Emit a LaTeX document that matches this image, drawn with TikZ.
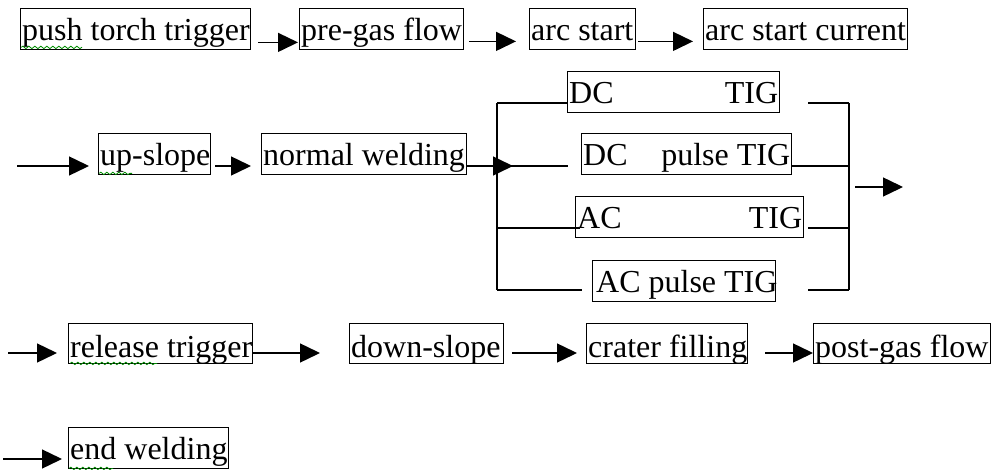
\documentclass[tikz,border=0pt]{standalone}
\usepackage{fontspec}
\setmainfont{Liberation Serif}
\usetikzlibrary{arrows.meta,decorations.pathmorphing}
\begin{document}
\begin{tikzpicture}[x=1pt,y=-1pt,
  stepbox/.style={draw, line width=1.4pt, inner xsep=1.5pt, inner ysep=0pt,
    anchor=north west, font=\fontsize{32}{34}\selectfont, text height=32pt},
  link/.style={line width=1.4pt},
  flow/.style={link, -{Triangle[length=20pt,width=19pt]}},
  spell/.style={draw=green!55!black, line width=0.8pt, decorate,
    decoration={snake, segment length=6pt, amplitude=1.2pt}}]
\useasboundingbox (0,0) rectangle (992,470);

% start-up sequence
\node[stepbox, text depth=9pt] (push)   at (20,8)  {\makebox[227pt][l]{push torch trigger}};
\node[stepbox, text depth=9pt] (pre)    at (299,8) {\makebox[161pt][l]{pre-gas flow}};
\node[stepbox, text depth=9pt] (arcs)   at (529,8) {\makebox[103pt][l]{arc start}};
\node[stepbox, text depth=9pt] (arcc)   at (703,8) {\makebox[201pt][l]{arc start current}};

\draw[flow] ([xshift=7pt,yshift=8pt]push.south east) -- ([xshift=-1pt,yshift=8pt]pre.south west);
\draw[flow] ([xshift=5pt,yshift=9pt]pre.south east) -- ([xshift=-13pt,yshift=9pt]arcs.south west);
\draw[flow] ([xshift=2pt,yshift=9pt]arcs.south east) -- ([xshift=-10pt,yshift=9pt]arcc.south west);

% welding row
\coordinate (in2) at (17,166);
\node[stepbox, text depth=9pt] (up)     at (98,133)  {\makebox[109pt][l]{up-slope}};
\node[stepbox, text depth=9pt] (normal) at (261,133) {\makebox[202pt][l]{normal welding}};
\draw[flow] (in2) -- ([xshift=-9pt]up.west |- in2);
\draw[flow] ([xshift=4pt]up.east |- in2) -- ([xshift=-10pt]normal.west |- in2);

% process variants
\node[stepbox, text depth=9pt] (dc)  at (567,71)  {\makebox[209pt][s]{DC\hfill TIG}};
\node[stepbox, text depth=9pt] (dcp) at (581,133) {\makebox[207pt][s]{DC\hfill pulse TIG}};
\node[stepbox, text depth=9pt] (ac)  at (575,196) {\makebox[225pt][s]{AC\hfill TIG}};
\node[stepbox, text depth=9pt] (acp) at (592,260) {\makebox[180pt][l]{\hspace{2pt}AC pulse TIG}};

\coordinate (lt) at (497,103);
\coordinate (fork) at (497,166);
\coordinate (lac) at (497,228);
\coordinate (lb) at (497,290);
\coordinate (rt) at (849,103);
\coordinate (rdc) at (849,166);
\coordinate (rac) at (849,228);
\coordinate (rb) at (849,290);
\coordinate (rmid) at (849,187);

\draw[flow] (normal.east |- fork) -- ([xshift=16pt]fork);
\draw[link] (lt) -- (lb);
\draw[link] (rt) -- (rb);
\draw[link] (lt) -- (dc.west |- lt);
\draw[link] (fork) -- ([xshift=-13pt]dcp.west |- fork);
\draw[link] (lac) -- ([xshift=5pt]ac.west |- lac);
\draw[link] (lb) -- ([xshift=-10pt]acp.west |- lb);
\draw[link] ([xshift=28pt]dc.east |- rt) -- (rt);
\draw[link] (dcp.east |- rdc) -- (rdc);
\draw[link] ([xshift=4pt]ac.east |- rac) -- (rac);
\draw[link] ([xshift=32pt]acp.east |- rb) -- (rb);
\draw[flow] ([xshift=6pt]rmid) -- ([xshift=54pt]rmid);

% shut-down sequence
\coordinate (in3) at (8,353);
\node[stepbox, text height=34pt, text depth=6pt] (release) at (68,323)  {\makebox[181pt][l]{release trigger}};
\node[stepbox, text height=34pt, text depth=6pt] (down)    at (349,323) {\makebox[151pt][l]{down-slope}};
\node[stepbox, text height=34pt, text depth=6pt] (crater)  at (586,323) {\makebox[158pt][l]{crater filling}};
\node[stepbox, text height=34pt, text depth=6pt] (post)    at (813,323) {\makebox[174pt][l]{post-gas flow}};
\draw[flow] (in3) -- ([xshift=-11pt]release.west |- in3);
\draw[flow] (release.east |- in3) -- ([xshift=-29pt]down.west |- in3);
\draw[flow] ([xshift=8pt]down.east |- in3) -- ([xshift=-9pt]crater.west |- in3);
\draw[flow] ([xshift=17pt]crater.east |- in3) -- (post.west |- in3);

\coordinate (in4) at (3,459);
\node[stepbox, text depth=9pt] (endw) at (68,427) {\makebox[157pt][l]{end welding}};
\draw[flow] (in4) -- ([xshift=-6pt]endw.west |- in4);

% spell-check underlines
\draw[spell] ([xshift=1pt,yshift=3pt]push.south west) -- +(61,0);
\draw[spell] ([xshift=1pt,yshift=2pt]up.south west) -- +(33,0);
\draw[spell] ([xshift=2pt,yshift=1pt]release.south west) -- +(87,0);
\draw[spell] ([xshift=1pt,yshift=1pt]endw.south west) -- +(44,0);
\end{tikzpicture}
\end{document}
